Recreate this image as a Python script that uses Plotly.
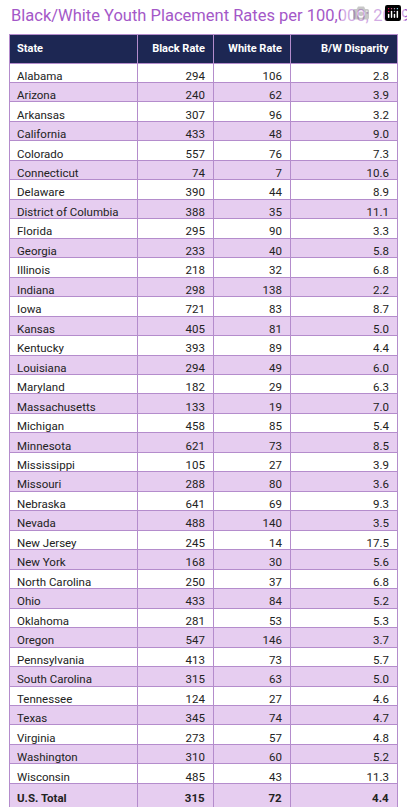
import plotly.graph_objects as go

states = ["Alabama","Arizona","Arkansas","California","Colorado","Connecticut","Delaware","District of Columbia","Florida","Georgia","Illinois","Indiana","Iowa","Kansas","Kentucky","Louisiana","Maryland","Massachusetts","Michigan","Minnesota","Mississippi","Missouri","Nebraska","Nevada","New Jersey","New York","North Carolina","Ohio","Oklahoma","Oregon","Pennsylvania","South Carolina","Tennessee","Texas","Virginia","Washington","Wisconsin"]
black_rate = [294,240,307,433,557,74,390,388,295,233,218,298,721,405,393,294,182,133,458,621,105,288,641,488,245,168,250,433,281,547,413,315,124,345,273,310,485]
white_rate = [106,62,96,48,76,7,44,35,90,40,32,138,83,81,89,49,29,19,85,73,27,80,69,140,14,30,37,84,53,146,73,63,27,74,57,60,43]
disparity = ["2.8","3.9","3.2","9.0","7.3","10.6","8.9","11.1","3.3","5.8","6.8","2.2","8.7","5.0","4.4","6.0","6.3","7.0","5.4","8.5","3.9","3.6","9.3","3.5","17.5","5.6","6.8","5.2","5.3","3.7","5.7","5.0","4.6","4.7","4.8","5.2","11.3"]
total = ["U.S. Total", 315, 72, "4.4"]
headers = ["State", "Black Rate", "White Rate", "B/W Disparity"]

c0 = states + ["<b>%s</b>" % total[0]]
c1 = [str(v) for v in black_rate] + ["<b>%s</b>" % total[1]]
c2 = [str(v) for v in white_rate] + ["<b>%s</b>" % total[2]]
c3 = disparity + ["<b>%s</b>" % total[3]]
n = len(c0)
fills = ["white" if i % 2 == 0 else "#e6cdf0" for i in range(n)]
fills[-1] = "#e6cdf0"

W, H = 407, 807
fig = go.Figure(go.Table(
    domain=dict(x=[9/W, 397/W], y=[0, 1 - 34/H]),
    columnwidth=[128, 76, 77, 107],
    header=dict(values=["<b>%s</b>" % h for h in headers],
                fill_color="#1d2753", line=dict(color="#b48ccc", width=1),
                font=dict(color="white", size=11, family="Roboto"),
                align=["left", "right", "right", "right"], height=19.5),
    cells=dict(values=[c0, c1, c2, c3],
               fill_color=[fills]*4, line=dict(color="#b48ccc", width=1),
               font=dict(color="#222222", size=11.5, family="Roboto"),
               align=["left", "right", "right", "right"], height=19.47),
))
fig.add_annotation(text="Black/White Youth Placement Rates per 100,000; 2019",
                   xref="paper", yref="paper", x=9/W, y=1 - 4/H, xanchor="left", yanchor="top",
                   showarrow=False, font=dict(color="#a458c8", size=16.5, family="Roboto"))
fig.update_layout(width=W, height=H, margin=dict(l=0, r=0, t=0, b=0),
                  paper_bgcolor="white", plot_bgcolor="white")
fig.write_html("out.html", post_script="document.body.style.margin='0';document.body.style.overflow='hidden';")
